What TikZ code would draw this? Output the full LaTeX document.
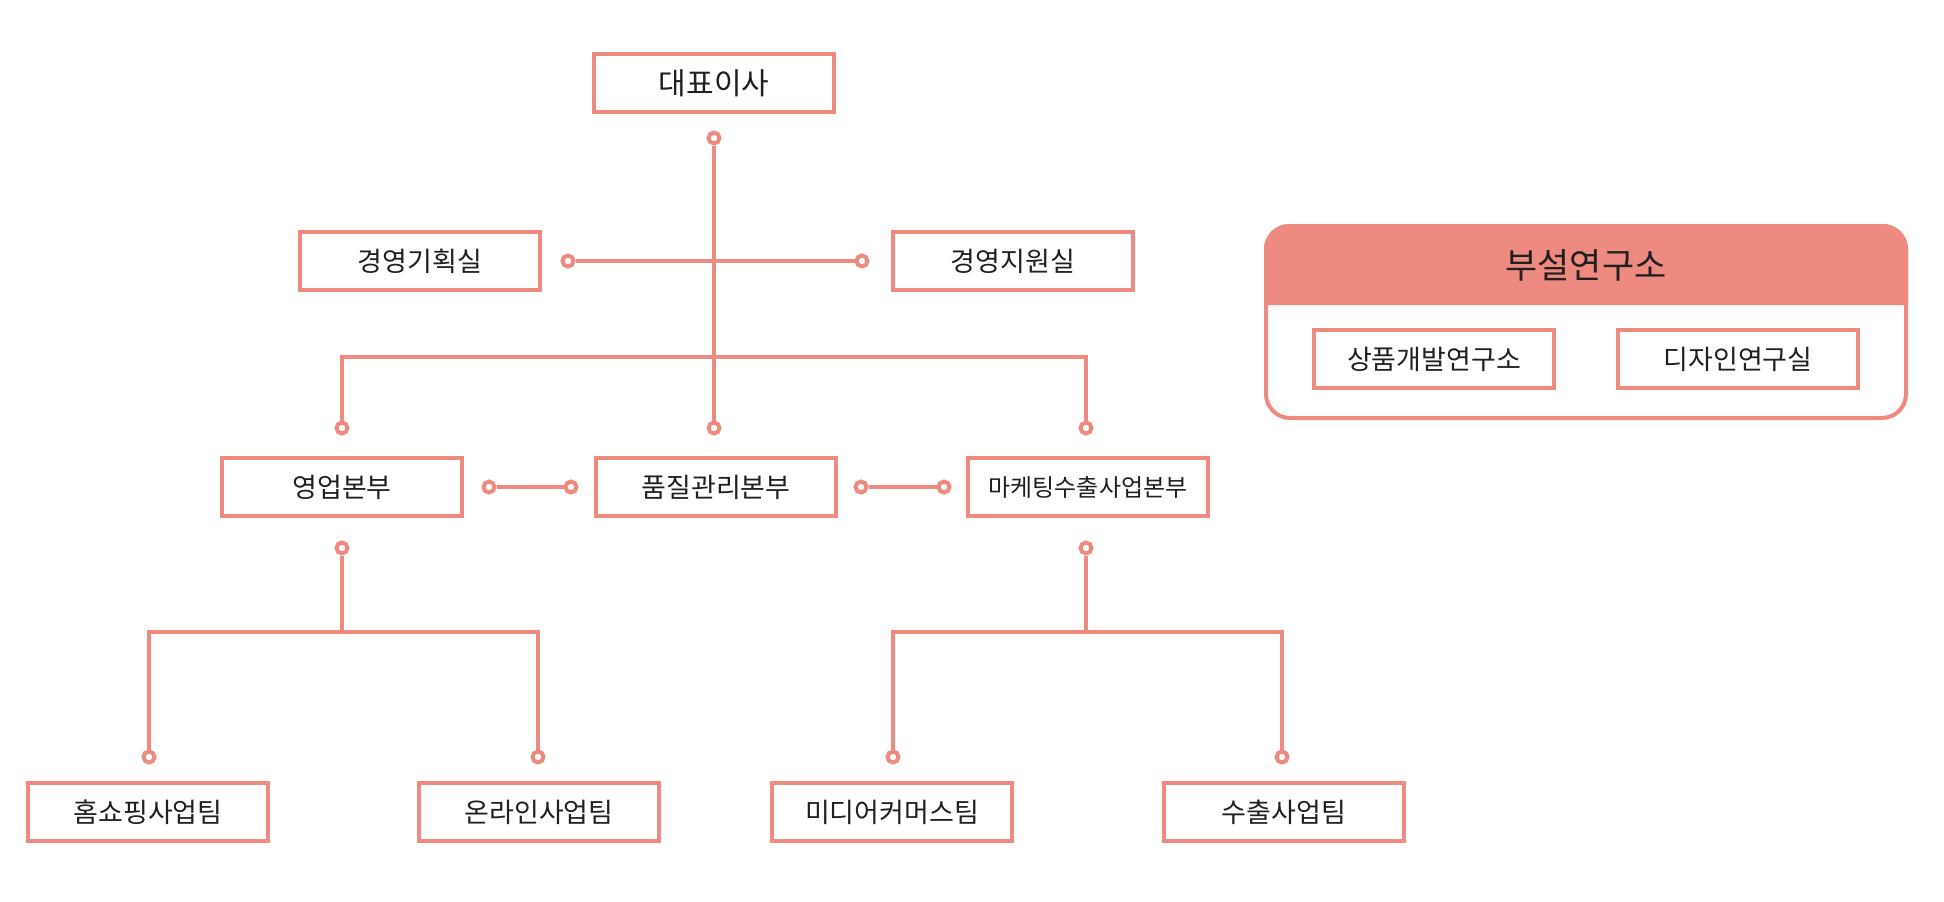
\documentclass[tikz,border=0pt]{standalone}
\usepackage{fontspec}
\setmainfont{Noto Sans CJK KR}
\definecolor{colL}{RGB}{238,138,128}
\definecolor{colH}{RGB}{237,139,129}
\definecolor{colT}{RGB}{35,31,32}
\tikzstyle{unit}=[draw=colL, line width=4pt, fill=white, minimum width=240pt, minimum height=58pt, inner sep=0pt, text=colT, font=\fontsize{27}{30}\selectfont]
\tikzstyle{knob}=[circle, draw=colL, fill=white, line width=4pt, inner sep=0pt, minimum size=11pt]
\tikzstyle{link}=[line width=4pt, colL]

\begin{document}
\begin{tikzpicture}[x=1pt, y=-1pt]
		\useasboundingbox (0,0) rectangle (1944,902);
		% boxes
		\node[unit, font=\fontsize{30}{34}\selectfont] (ceo) at (714,83) {대표이사};
		\node[unit] (plan) at (420,261) {경영기획실};
		\node[unit] (supp) at (1013,261) {경영지원실};
		\node[unit] (sales) at (342,487) {영업본부};
		\node[unit] (qual) at (716,487) {품질관리본부};
		\node[unit, font=\fontsize{24}{28}\selectfont] (mkt) at (1088,487) {마케팅수출사업본부};
		\node[unit] (t1) at (148,812) {홈쇼핑사업팀};
		\node[unit] (t2) at (539,812) {온라인사업팀};
		\node[unit] (t3) at (892,812) {미디어커머스팀};
		\node[unit] (t4) at (1284,812) {수출사업팀};
		% knobs
		\node[knob] (k0) at (714,138) {};
		\node[knob] (kp) at (568,261) {};
		\node[knob] (ks) at (862,261) {};
		\node[knob] (k1) at (342,428) {};
		\node[knob] (k2) at (714,428) {};
		\node[knob] (k3) at (1086,428) {};
		\node[knob] (ka) at (489,487) {};
		\node[knob] (kb) at (571,487) {};
		\node[knob] (kc) at (861,487) {};
		\node[knob] (kd) at (944,487) {};
		\node[knob] (k4) at (342,548) {};
		\node[knob] (k5) at (1086,548) {};
		\node[knob] (k6) at (149,757) {};
		\node[knob] (k7) at (538,757) {};
		\node[knob] (k8) at (893,757) {};
		\node[knob] (k9) at (1282,757) {};
		\coordinate (j0) at (714,357);
		\coordinate (j1) at (342,632);
		\coordinate (j2) at (1086,632);
		\draw[link] (k0)--(j0) (kp)--(ks) (ka)--(kb) (kc)--(kd) (j0)--(k2);
		\draw[link] (k1) |- (j0) -| (k3);
		\draw[link] (k4)--(j1) (k5)--(j2);
		\draw[link] (k6) |- (j1) -| (k7);
		\draw[link] (k8) |- (j2) -| (k9);
		% research lab
		\fill[colH] (1264,305) [rounded corners=25pt] -- (1264,224) -- (1908,224) [sharp corners] -- (1908,305) -- cycle;
		\node[draw=colL, line width=4pt, rounded corners=24pt, minimum width=640pt, minimum height=192pt] (lab) at (1586,322) {};
		\node[text=colT, font=\fontsize{35}{40}\selectfont] (ttl) at (1586,265) {부설연구소};
		\node[unit] (r1) at (1434,359) {상품개발연구소};
		\node[unit] (r2) at (1738,359) {디자인연구실};
	\end{tikzpicture}
\end{document}
